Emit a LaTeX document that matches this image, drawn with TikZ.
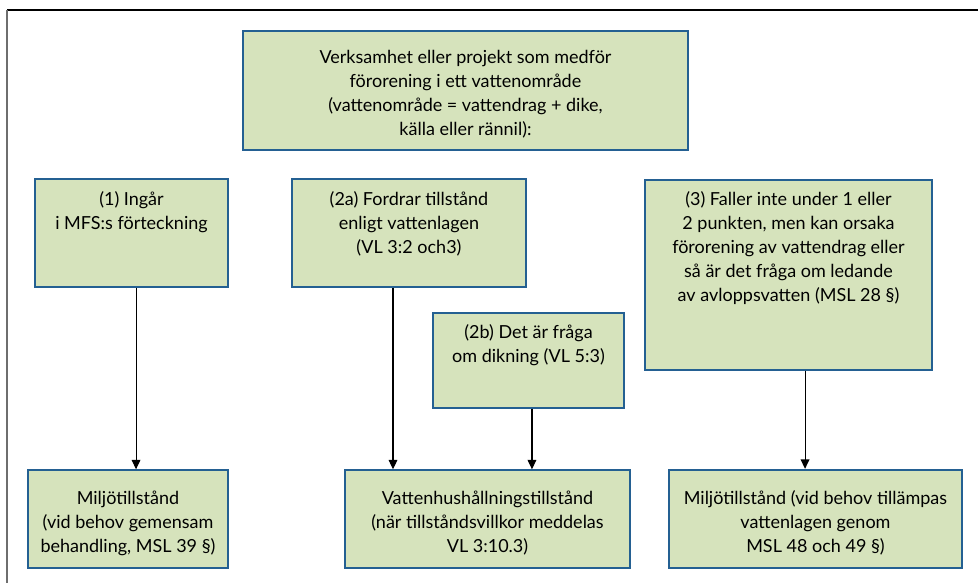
\documentclass[tikz,border=0pt]{standalone}
\usepackage{fontspec}
\setmainfont{Lato}
\usetikzlibrary{arrows.meta,fit}
\definecolor{box_green}{RGB}{214,227,188}
\definecolor{box_blue}{RGB}{36,96,146}
\definecolor{frame_gray}{RGB}{110,110,110}

\begin{document}
\begin{tikzpicture}[x=0.75pt,y=-0.75pt,>={Triangle[length=7pt,width=6.5pt]}]
    \tikzstyle{box}=[draw=box_blue, line width=1.1pt, fill=box_green, inner sep=0pt]
    \tikzstyle{txt}=[anchor=north, inner sep=0pt, align=center, font=\fontsize{13.5}{18}\selectfont, text=black]
    \tikzstyle{arr}=[->, line width=0.8pt]

    \useasboundingbox (0,0) rectangle (978,583);
    \draw[black, line width=1.4pt] (7,10) -- (978,10);
    \draw[frame_gray, line width=1.6pt] (7,10) -- (7,583);

    % start
    \node[box, fit={(243,31) (688,150)}] (top) {};
    \node[txt, anchor=center] (topt) at ([yshift=-3pt]top.center) {Verksamhet eller projekt som medför\\förorening i ett vattenområde\\(vattenområde = vattendrag + dike,\\källa eller rännil):};

    % cases
    \node[box, fit={(35,179) (228,287)}] (b1) {};
    \node[txt] (b1t) at ([yshift=-10pt]b1.north) {(1) Ingår\\i MFS:s förteckning};
    \node[box, fit={(292,179) (526,287)}] (b2a) {};
    \node[txt] (b2at) at ([yshift=-10pt]b2a.north) {(2a) Fordrar tillstånd\\enligt vattenlagen\\(VL 3:2 och3)};
    \node[box, fit={(433,313) (624,408)}] (b2b) {};
    \node[txt] (b2bt) at ([yshift=-9pt]b2b.north) {(2b) Det är fråga\\om dikning (VL 5:3)};
    \node[box, fit={(645,180) (932,370)}] (b3) {};
    \node[txt] (b3t) at ([yshift=-9pt]b3.north) {(3) Faller inte under 1 eller\\2 punkten, men kan orsaka\\förorening av vattendrag eller\\så är det fråga om ledande\\av avloppsvatten (MSL 28 §)};

    % permits
    \node[box, fit={(28,470) (228,568)}] (pA) {};
    \node[txt, anchor=center] (pAt) at ([yshift=-3pt]pA.center) {Miljötillstånd\\(vid behov gemensam\\behandling, MSL 39 §)};
    \node[box, fit={(345,470) (630,568)}] (pB) {};
    \node[txt, anchor=center] (pBt) at ([yshift=-3pt]pB.center) {Vattenhushållningstillstånd\\(när tillståndsvillkor meddelas\\VL 3:10.3)};
    \node[box, line width=1.8pt, fit={(669,470) (962,568)}] (pC) {};
    \node[txt, anchor=center] (pCt) at ([yshift=-3pt]pC.center) {Miljötillstånd (vid behov tillämpas\\vattenlagen genom\\MSL 48 och 49 §)};

    \draw[arr] ([xshift=3.4pt]b1.south) -- ([xshift=3.4pt]b1.south |- pA.north);
    \draw[arr] ([xshift=-12pt]b2a.south) -- ([xshift=-12pt]b2a.south |- pB.north);
    \draw[arr] ([xshift=2.6pt]b2b.south) -- ([xshift=2.6pt]b2b.south |- pB.north);
    \draw[arr] ([xshift=12.4pt]b3.south) -- ([xshift=12.4pt]b3.south |- pC.north);
\end{tikzpicture}
\end{document}
